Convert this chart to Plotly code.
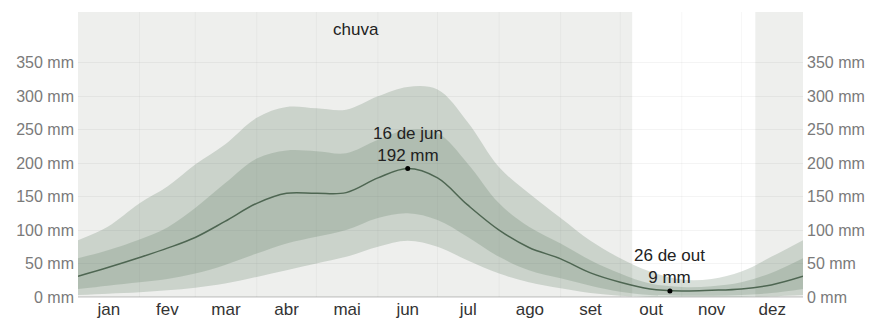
import plotly.graph_objects as go

# ---- data (day of year, mm) ----
days = [0, 15, 31, 45, 59, 74, 90, 105, 120, 135, 151, 166, 181, 196, 212, 227, 243, 258, 273, 288, 304, 319, 334, 349, 365]
p90 = [85, 105, 140, 165, 198, 228, 268, 284, 282, 280, 300, 314, 310, 262, 194, 155, 118, 84, 58, 38, 26, 27, 38, 60, 85]
p75 = [58, 70, 86, 104, 133, 170, 207, 219, 218, 215, 235, 250, 245, 200, 140, 105, 80, 55, 35, 20, 15, 16, 22, 36, 58]
median = [31, 44, 59, 73, 89, 113, 140, 155, 155, 156, 178, 192, 178, 138, 100, 74, 57, 36, 22, 12, 9, 10, 12, 18, 31]
p25 = [12, 17, 22, 27, 35, 48, 65, 80, 90, 100, 118, 125, 115, 90, 60, 40, 28, 17, 8, 3, 2, 2, 3, 6, 12]
p10 = [3, 5, 7, 10, 14, 20, 30, 40, 50, 60, 75, 84, 75, 55, 35, 22, 13, 6, 2, 0, 0, 0, 0, 1, 3]

month_labels = ["jan", "fev", "mar", "abr", "mai", "jun", "jul", "ago", "set", "out", "nov", "dez"]
month_starts = [0, 31, 59, 90, 120, 151, 181, 212, 243, 273, 304, 334, 365]
month_mids = [15.5, 45, 74.5, 105, 135.5, 166, 196.5, 227.5, 258, 288.5, 319, 349.5]

tick_values = [0, 50, 100, 150, 200, 250, 300, 350]
tick_labels = ["0 mm", "50 mm", "100 mm", "150 mm", "200 mm", "250 mm", "300 mm", "350 mm"]

# wet season shading (day ranges) and its label
season_ranges = [(0, 279), (341, 365)]
season_label = "chuva"
season_label_day = 140

peak = {"day": 166, "value": 192, "text": "16 de jun<br>192 mm"}
low = {"day": 298, "value": 9, "text": "26 de out<br>9 mm"}

band_col = "rgba(90,120,95,0.24)"
FONT = "Liberation Sans, Arial, sans-serif"

fig = go.Figure()

fig.add_trace(go.Scatter(x=days, y=p10, mode="lines", line=dict(width=0, shape="spline"),
                         hoverinfo="skip", showlegend=False))
fig.add_trace(go.Scatter(x=days, y=p90, mode="lines", line=dict(width=0, shape="spline"),
                         fill="tonexty", fillcolor=band_col, hoverinfo="skip", showlegend=False))
fig.add_trace(go.Scatter(x=days, y=p25, mode="lines", line=dict(width=0, shape="spline"),
                         hoverinfo="skip", showlegend=False))
fig.add_trace(go.Scatter(x=days, y=p75, mode="lines", line=dict(width=0, shape="spline"),
                         fill="tonexty", fillcolor=band_col, hoverinfo="skip", showlegend=False))
fig.add_trace(go.Scatter(x=days, y=median, mode="lines",
                         line=dict(width=1.5, color="rgb(78,102,82)", shape="spline"),
                         showlegend=False))
fig.add_trace(go.Scatter(x=[peak["day"], low["day"]], y=[peak["value"], low["value"]],
                         mode="markers", marker=dict(color="black", size=5), showlegend=False))
# invisible trace for right axis
fig.add_trace(go.Scatter(x=[days[0]], y=[0], yaxis="y2", mode="markers",
                         marker=dict(opacity=0), showlegend=False, hoverinfo="skip"))

shapes = []
for a, b in season_ranges:
    shapes.append(dict(type="rect", xref="x", yref="paper", x0=a, x1=b, y0=0, y1=1,
                       fillcolor="#eeefed", line=dict(width=0), layer="below"))
for m in month_starts[1:-1]:
    shapes.append(dict(type="line", xref="x", yref="paper", x0=m, x1=m, y0=0, y1=1,
                       line=dict(color="rgba(0,0,0,0.035)", width=1), layer="below"))

annotations = [
    dict(x=season_label_day, y=1, xref="x", yref="paper", text=season_label, showarrow=False,
         yanchor="top", yshift=-6, font=dict(size=17, color="#222", family=FONT)),
    dict(x=peak["day"], y=peak["value"], text=peak["text"], showarrow=False, yanchor="bottom",
         yshift=2, font=dict(size=17, color="#222", family=FONT)),
    dict(x=low["day"], y=low["value"], text=low["text"], showarrow=False, yanchor="bottom",
         yshift=2, font=dict(size=17, color="#222", family=FONT)),
]

# page body has an 8px margin: figure is placed at (8, 8) in the window
yr = [0, 426]
fig.update_layout(
    width=867, height=310,
    margin=dict(l=70, r=72, t=4, b=21),
    paper_bgcolor="white", plot_bgcolor="white",
    shapes=shapes, annotations=annotations,
    font=dict(family=FONT),
    xaxis=dict(range=[0, 365], tickvals=month_mids, ticktext=month_labels, showgrid=False,
               zeroline=False, showline=False, ticks="", tickfont=dict(size=17, color="#333"),
               fixedrange=True, automargin=False),
    yaxis=dict(range=yr, tickvals=tick_values, ticktext=tick_labels, showgrid=True,
               gridcolor="rgba(0,0,0,0.045)", zeroline=True, zerolinecolor="rgba(0,0,0,0.12)",
               ticks="", tickfont=dict(size=16, color="#7a7a7a"), fixedrange=True,
               automargin=False, ticklabelstandoff=3),
    yaxis2=dict(range=yr, tickvals=tick_values, ticktext=tick_labels, overlaying="y", side="right",
                showgrid=False, zeroline=False, ticks="", tickfont=dict(size=16, color="#7a7a7a"),
                fixedrange=True, automargin=False, ticklabelstandoff=3),
)

fig.write_html("out.html")
